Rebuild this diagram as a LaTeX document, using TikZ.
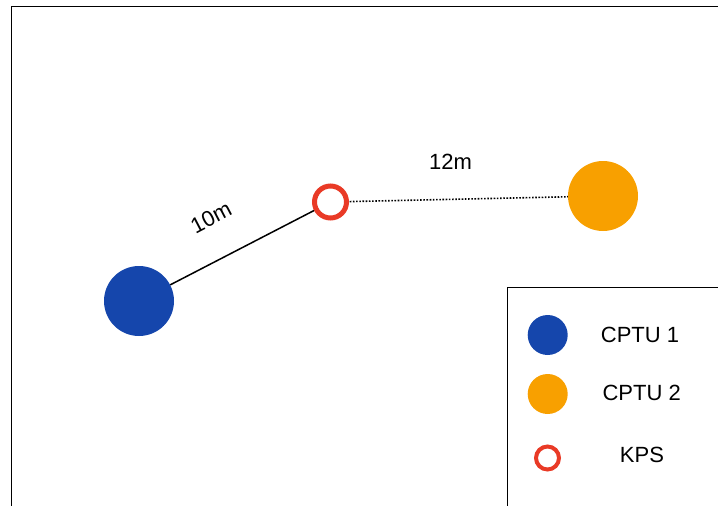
\documentclass[tikz,border=0pt]{standalone}
\usepackage{fontspec}
\setmainfont{Liberation Sans}
\usetikzlibrary{backgrounds}
\definecolor{cptublue}{RGB}{21,70,172}
\definecolor{cptuorange}{RGB}{248,160,0}
\definecolor{kpsred}{RGB}{233,58,38}
\begin{document}
\begin{tikzpicture}[x=1pt,y=-1pt,
  site/.style={circle, inner sep=0pt, outer sep=0pt},
  cptuone/.style={site, fill=cptublue},
  cptutwo/.style={site, fill=cptuorange},
  kpsmark/.style={site, draw=kpsred, fill=white},
  lbl/.style={font=\fontsize{22}{26}\selectfont, inner sep=0pt},
  frameline/.style={line width=1.8pt}]
\useasboundingbox (0,0) rectangle (718,506);

% site map frame and legend box
\draw[frameline] (11.5,506) -- (11.5,6.5) -- (718,6.5);
\draw[line width=1.4pt] (507.5,506) -- (507.5,287.5) -- (718,287.5);

% test locations
\node[cptuone, minimum size=70pt] (cptu1) at (139,301) {};
\node[cptutwo, minimum size=70pt] (cptu2) at (603,196) {};
\node[kpsmark, minimum size=32pt, line width=5pt] (kps) at (330.5,202) {};

% distances
\begin{scope}[on background layer]
  \draw[line width=1.5pt] (cptu1) -- (kps);
  \draw[line width=1.6pt, dash pattern=on 1.6pt off 1.6pt] (kps) -- (cptu2);
\end{scope}
\node[lbl, rotate=27.6] (d1) at (211,217.5) {10m};
\node[lbl, anchor=base] (d2) at (450.5,169) {12m};

% legend
\node[cptuone, minimum size=40pt] (lg1) at (547.7,335) {};
\node[cptutwo, minimum size=40pt] (lg2) at (547.7,394) {};
\node[kpsmark, minimum size=23pt, line width=4pt] (lg3) at (547.5,458) {};
\node[lbl, anchor=base] (t1) at (640,342.7) {CPTU 1};
\node[lbl, anchor=base] (t2) at (641.7,400) {CPTU 2};
\node[lbl, anchor=base] (t3) at (642,462.7) {KPS};
\end{tikzpicture}
\end{document}
